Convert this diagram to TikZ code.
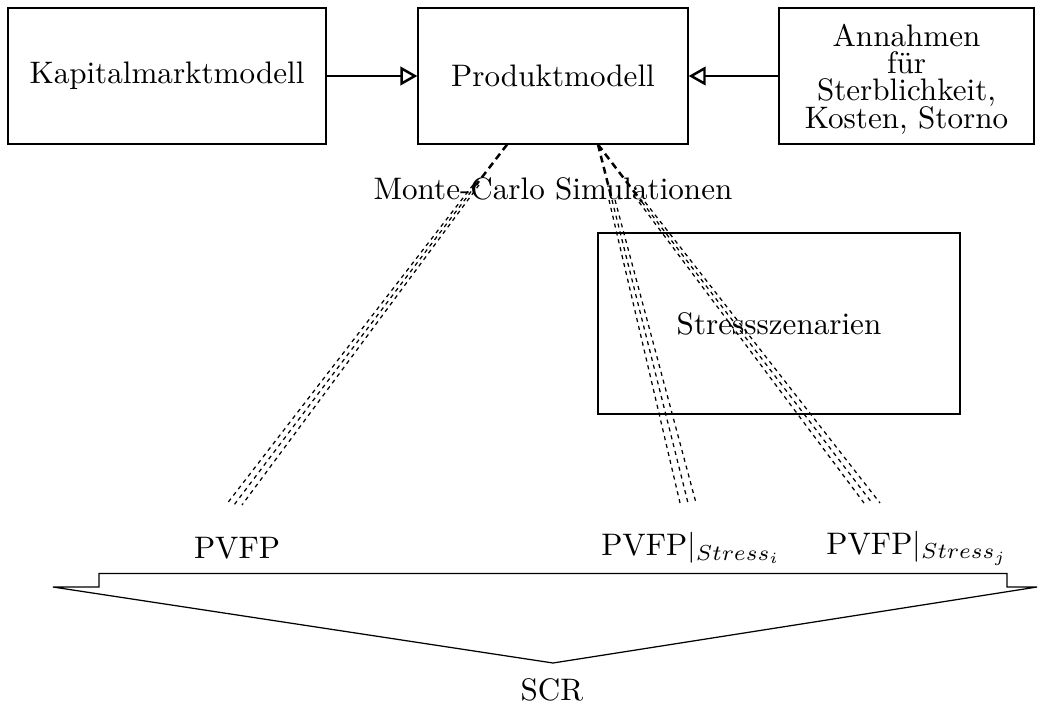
\documentclass[tikz,border=0pt]{standalone}
\usetikzlibrary{arrows.meta,calc}
\newcommand\tightlines{\fontsize{10}{8.8}\selectfont\lineskiplimit=-20pt\relax}
\begin{document}
\begin{tikzpicture}[x=0.3215pt,y=-0.3215pt,
  box/.style={draw,inner sep=0pt,align=center},
  conn/.style={-{Triangle[open,length=5.5pt,width=6pt]},thick},
  mainline/.style={thick,dash pattern=on 2.2pt off 1.5pt},
  fanline/.style={thin,dash pattern=on 1.3pt off 1.3pt}]
\useasboundingbox (0,0) rectangle (1041,704);
\node[box,minimum width={318*0.3215pt},minimum height={136*0.3215pt}] (K) at (167,76) {Kapitalmarktmodell};
\node[box,minimum width={270*0.3215pt},minimum height={136*0.3215pt}] (P) at (553,76) {Produktmodell};
\node[box,minimum width={255*0.3215pt},minimum height={136*0.3215pt}] (A) at (906.5,76) {};
\node[align=center,inner sep=0pt,font=\tightlines] (At) at (906.5,79) {Annahmen\\für\\Sterblichkeit,\\Kosten, Storno};
\node[box,minimum width={362*0.3215pt},minimum height={181*0.3215pt}] (S) at (779,323.5) {Stressszenarien};
\draw[conn] (K.east) -- (P.west);
\draw[conn] (A.west) -- (P.east);
\node (MC) at (553,189) {Monte-Carlo Simulationen};
\node (V0) at (237,548) {PVFP};
\node (V1) at (691,548) {PVFP$|_{Stress_i}$};
\node (V2) at (917,548) {PVFP$|_{Stress_j}$};
\node (SCR) at (552,690) {SCR};
% start points
\coordinate (s0) at ($(P.south)+(-46,0)$);
\coordinate (s1) at ($(P.south)+(45,0)$);
% split points
\coordinate (m0) at (476,185);
\coordinate (m1) at (612,200);
\coordinate (m2) at (642,202);
% end points
\coordinate (e0) at (234,505);
\coordinate (e1) at (688,503);
\coordinate (e2) at (872,503);
\draw[mainline] (s0) -- (m0);
\draw[mainline] (s1) -- (m1);
\draw[mainline] (s1) -- (m2);
\foreach \d in {-1,0,1}{
  \draw[fanline] ($(m0)+(3*\d,0)$) -- ($(e0)+(8*\d,0)$);
  \draw[fanline] ($(m1)+(3*\d,0)$) -- ($(e1)+(8*\d,0)$);
  \draw[fanline] ($(m2)+(3*\d,0)$) -- ($(e2)+(8*\d,0)$);
}
% bottom funnel
\coordinate (b1) at (53,587);
\coordinate (b2) at (99,587);
\coordinate (b3) at (99,573.5);
\coordinate (b4) at (1007,573.5);
\coordinate (b5) at (1007,587);
\coordinate (b6) at (1037,587);
\coordinate (b7) at (553,663);
\draw (b1) -- (b2) -- (b3) -- (b4) -- (b5) -- (b6) -- (b7) -- cycle;
\end{tikzpicture}
\end{document}
